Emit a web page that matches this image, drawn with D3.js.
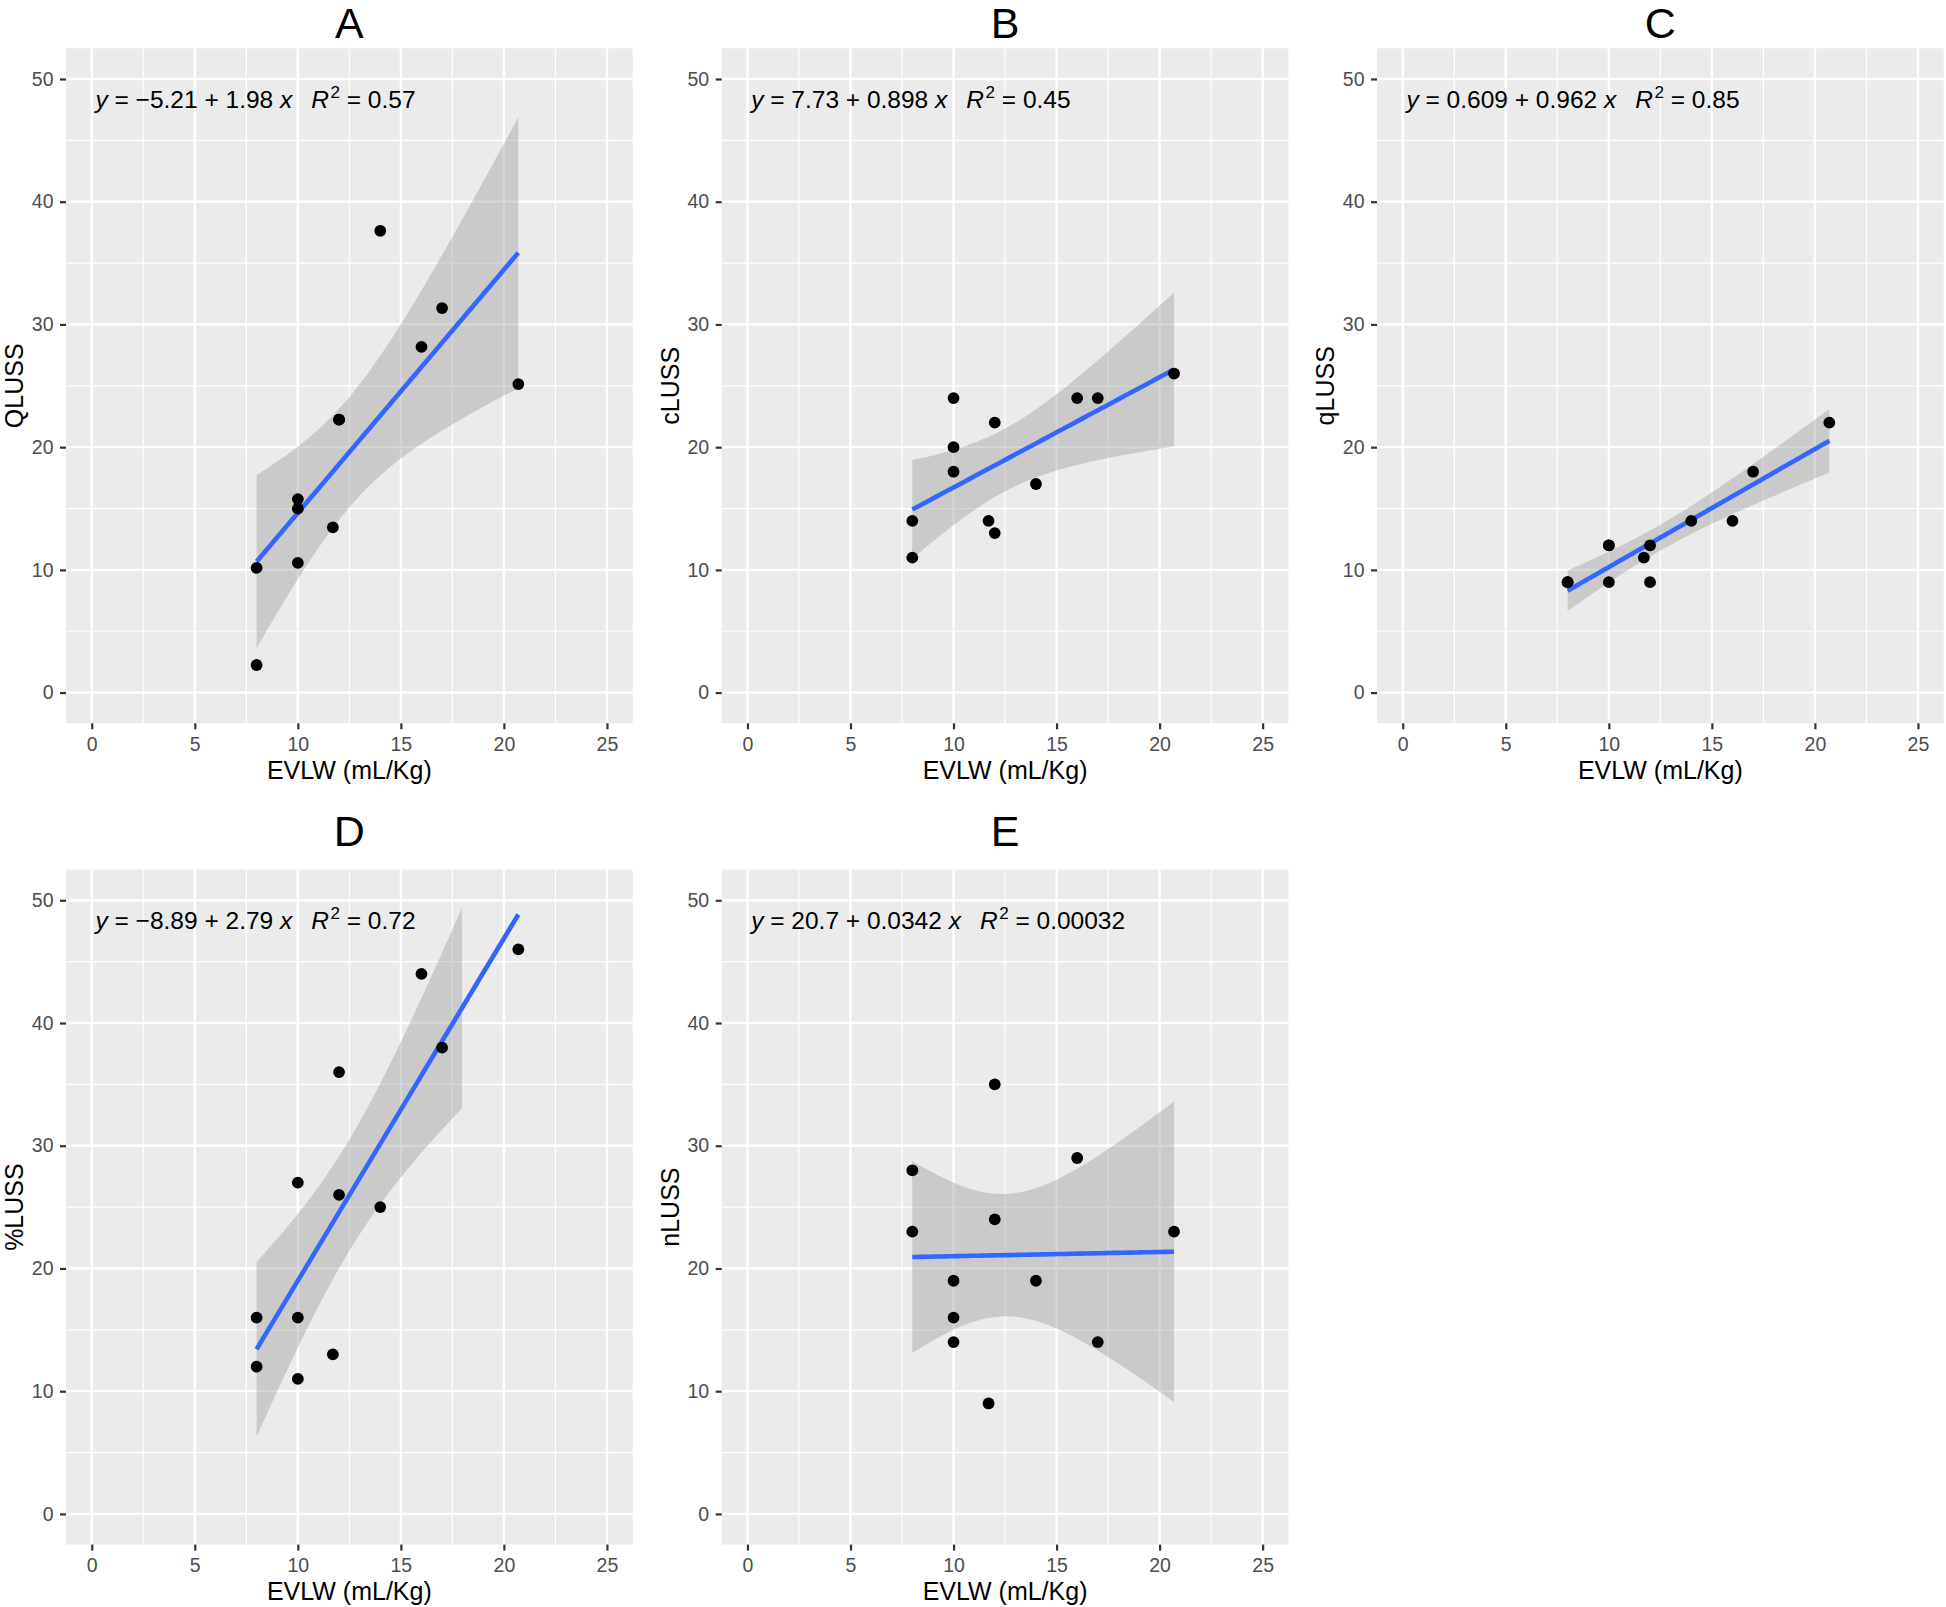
<!DOCTYPE html>
<html>
<head>
<meta charset="utf-8">
<script src="https://cdn.jsdelivr.net/npm/d3@7/dist/d3.min.js"></script>
<style>
  html, body { margin: 0; padding: 0; background: #ffffff; }
  svg { display: block; }
  text { font-family: "Liberation Sans", Arial, Helvetica, sans-serif; }
</style>
</head>
<body>
<svg id="chart" width="1946" height="1607"></svg>
<script>
// ---------------- DATA ----------------
const panelIds   = ["A", "B", "C", "D", "E"];
const yLabels    = ["QLUSS", "cLUSS", "qLUSS", "%LUSS", "nLUSS"];
const xLabel     = "EVLW (mL/Kg)";

// EVLW (mL/Kg) for the 12 patients (shared by every panel)
const evlw   = [8, 8, 10, 10, 10, 11.7, 12, 12, 14, 16, 17, 20.7];
// y series, one per panel, same order as evlw
const QLUSS  = [10.16, 2.25, 15.77, 14.99, 10.57, 13.47, 22.24, 22.24, 37.63, 28.17, 31.33, 25.14];
const cLUSS  = [14, 11, 24, 20, 18, 14, 22, 13, 17, 24, 24, 26];
const qLUSS  = [9, 9, 12, 12, 9, 11, 12, 9, 14, 14, 18, 22];
const pLUSS  = [16, 12, 27, 16, 11, 13, 36, 26, 25, 44, 38, 46];
const nLUSS  = [28, 23, 19, 16, 14, 9, 35, 24, 19, 29, 14, 23];
const ySeries = [QLUSS, cLUSS, qLUSS, pLUSS, nLUSS];

// equation labels as printed on the chart
const eqIntercept = ["\u22125.21", "7.73", "0.609", "\u22128.89", "20.7"];
const eqSlope     = ["1.98", "0.898", "0.962", "2.79", "0.0342"];
const eqR2        = ["0.57", "0.45", "0.85", "0.72", "0.00032"];

// axis limits and ticks
const xLimits     = [0, 25];
const yLimits     = [0, 50];
const xTicks      = [0, 5, 10, 15, 20, 25];
const xMinorTicks = [2.5, 7.5, 12.5, 17.5, 22.5];
const yTicks      = [0, 10, 20, 30, 40, 50];
const yMinorTicks = [5, 15, 25, 35, 45];

// ---------------- LAYOUT ----------------
const colLeft  = [66, 721.7, 1377];
const rowTop   = [48.3, 869.6];
const panelW   = 566.7, panelH = 675;
const titleBase = [37.5, 846];
const gridOf = [[0,0],[0,1],[0,2],[1,0],[1,1]]; // [row, col]

const svg = d3.select("#chart");

// linear model + 95% CI (what geom_smooth(method = "lm") draws, n = 80)
function lmBand(xs, ys) {
  const n = xs.length;
  const mx = d3.mean(xs), my = d3.mean(ys);
  let sxx = 0, sxy = 0;
  for (let i = 0; i < n; i++) { sxx += (xs[i]-mx)**2; sxy += (xs[i]-mx)*(ys[i]-my); }
  const b = sxy / sxx, a = my - b * mx;
  let sse = 0;
  for (let i = 0; i < n; i++) sse += (ys[i] - a - b*xs[i])**2;
  const s = Math.sqrt(sse / (n - 2));
  const t = 2.228138852; // qt(0.975, 10)
  const lo = d3.min(xs), hi = d3.max(xs);
  return d3.range(80).map(k => {
    const x = lo + (hi - lo) * k / 79;
    const fit = a + b * x;
    const se = s * Math.sqrt(1/n + (x-mx)**2 / sxx);
    return {x, fit, lo: fit - t*se, hi: fit + t*se};
  });
}

const xpad = (xLimits[1] - xLimits[0]) * 0.05;
const ypad = (yLimits[1] - yLimits[0]) * 0.05;

panelIds.forEach((id, i) => {
  const [r, c] = gridOf[i];
  const left = colLeft[c], top = rowTop[r];
  const x = d3.scaleLinear().domain([xLimits[0] - xpad, xLimits[1] + xpad]).range([left, left + panelW]);
  const y = d3.scaleLinear().domain([yLimits[0] - ypad, yLimits[1] + ypad]).range([top + panelH, top]);
  const g = svg.append("g");

  // panel background
  g.append("rect").attr("x", left).attr("y", top)
    .attr("width", panelW).attr("height", panelH).attr("fill", "#EBEBEB");

  // grid: minor then major
  g.selectAll(".xminor").data(xMinorTicks).join("line")
    .attr("x1", d => x(d)).attr("x2", d => x(d)).attr("y1", top).attr("y2", top + panelH)
    .attr("stroke", "#ffffff").attr("stroke-width", 1.2);
  g.selectAll(".yminor").data(yMinorTicks).join("line")
    .attr("y1", d => y(d)).attr("y2", d => y(d)).attr("x1", left).attr("x2", left + panelW)
    .attr("stroke", "#ffffff").attr("stroke-width", 1.2);
  g.selectAll(".xmajor").data(xTicks).join("line")
    .attr("x1", d => x(d)).attr("x2", d => x(d)).attr("y1", top).attr("y2", top + panelH)
    .attr("stroke", "#ffffff").attr("stroke-width", 2.3);
  g.selectAll(".ymajor").data(yTicks).join("line")
    .attr("y1", d => y(d)).attr("y2", d => y(d)).attr("x1", left).attr("x2", left + panelW)
    .attr("stroke", "#ffffff").attr("stroke-width", 2.3);

  // axes
  const xAxis = d3.axisBottom(x).tickValues(xTicks).tickSize(6).tickPadding(7.5).tickFormat(d3.format("d"));
  const yAxis = d3.axisLeft(y).tickValues(yTicks).tickSize(6).tickPadding(6.5).tickFormat(d3.format("d"));
  const gx = g.append("g").attr("transform", `translate(0,${top + panelH})`).call(xAxis);
  const gy = g.append("g").attr("transform", `translate(${left},0)`).call(yAxis);
  [gx, gy].forEach(ax => {
    ax.select(".domain").remove();
    ax.selectAll(".tick line").attr("stroke", "#333333").attr("stroke-width", 2.2);
    ax.selectAll(".tick text").attr("fill", "#4D4D4D").style("font-size", "19.5px")
      .style("font-family", "'Liberation Sans', Arial, sans-serif");
  });

  // regression band (values outside the y limits are dropped, as ggplot does) + line
  const band = lmBand(evlw, ySeries[i]);
  const inside = d => d.hi <= yLimits[1] && d.lo >= yLimits[0];
  g.append("path").datum(band)
    .attr("d", d3.area().defined(inside).x(d => x(d.x)).y0(d => y(d.lo)).y1(d => y(d.hi)))
    .attr("fill", "#999999").attr("fill-opacity", 0.4);
  g.append("path").datum(band)
    .attr("d", d3.line().x(d => x(d.x)).y(d => y(d.fit)))
    .attr("fill", "none").attr("stroke", "#3366FF").attr("stroke-width", 4.6);

  // points
  g.selectAll(".pt").data(evlw.map((v, k) => [v, ySeries[i][k]])).join("circle")
    .attr("cx", d => x(d[0])).attr("cy", d => y(d[1])).attr("r", 5.9).attr("fill", "#000000");

  // equation label
  const eq = g.append("text").attr("x", x(0.18)).attr("y", y(47.62))
    .style("font-size", "24.5px").attr("fill", "#000000");
  eq.append("tspan").style("font-style", "italic").text("y");
  eq.append("tspan").text(` = ${eqIntercept[i]} + ${eqSlope[i]} `);
  eq.append("tspan").style("font-style", "italic").text("x");
  eq.append("tspan").attr("dx", 19).style("font-style", "italic").text("R");
  eq.append("tspan").attr("dx", 1.5).attr("dy", -10).style("font-size", "17px").text("2");
  eq.append("tspan").attr("dy", 10).text(` = ${eqR2[i]}`);

  // panel title
  g.append("text").attr("x", left + panelW / 2).attr("y", titleBase[r])
    .attr("text-anchor", "middle").style("font-size", "43px").attr("fill", "#000000").text(id);

  // axis titles
  g.append("text").attr("x", left + panelW / 2).attr("y", top + panelH + 55.7)
    .attr("text-anchor", "middle").style("font-size", "25px").attr("fill", "#000000").text(xLabel);
  g.append("text")
    .attr("transform", `translate(${left - 43.2},${top + panelH / 2}) rotate(-90)`)
    .attr("text-anchor", "middle").style("font-size", "25px").attr("fill", "#000000").text(yLabels[i]);
});
</script>
</body>
</html>
